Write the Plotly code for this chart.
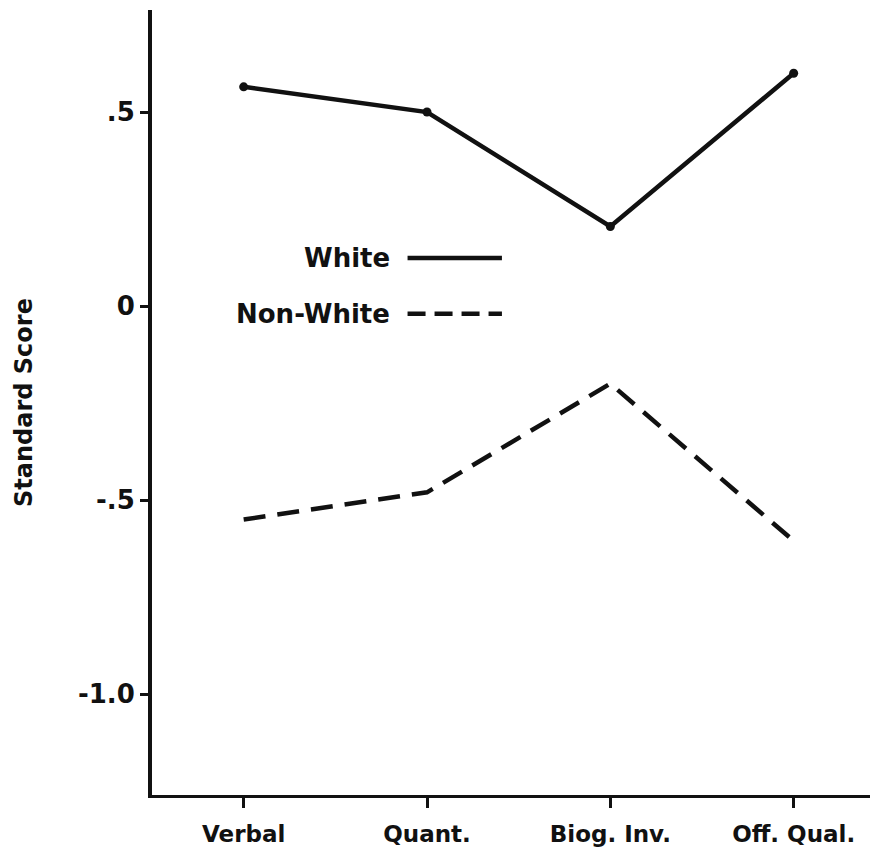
import plotly.graph_objects as go

# Data
categories = ["Verbal", "Quant.", "Biog. Inv.", "Off. Qual."]
white = [0.565, 0.50, 0.205, 0.60]
non_white = [-0.55, -0.48, -0.20, -0.605]

y_tick_vals = [0.5, 0, -0.5, -1.0]
y_tick_text = [".5", "0", "-.5", "-1.0"]

FONT = "DejaVu Sans"
INK = "#111111"

x_idx = list(range(len(categories)))

fig = go.Figure()

fig.add_trace(go.Scatter(
    x=x_idx, y=white, mode="lines+markers", name="White",
    line=dict(color=INK, width=4.5),
    marker=dict(size=9, color=INK),
))
fig.add_trace(go.Scatter(
    x=x_idx, y=non_white, mode="lines", name="Non-White",
    line=dict(color=INK, width=4.5, dash="22px,12px"),
))

# hand-drawn style legend: label, then line sample to its right
legend_rows = [("White", 0.124, "solid"), ("Non-White", -0.02, "18px,9px")]
for label, yv, dash in legend_rows:
    fig.add_annotation(
        x=0.33, y=yv, xref="paper", yref="y", text="<b>%s</b>" % label,
        showarrow=False, xanchor="right", yanchor="middle",
        font=dict(family=FONT, size=26, color=INK),
    )
    fig.add_shape(
        type="line", xref="paper", yref="y", x0=0.352, x1=0.482, y0=yv, y1=yv,
        line=dict(color=INK, width=4.5, dash=dash),
    )

fig.update_layout(
    width=878, height=857,
    margin=dict(l=144, r=8, t=2, b=70),
    plot_bgcolor="white", paper_bgcolor="white",
    showlegend=False,
    font=dict(family=FONT, color=INK),
)

fig.update_xaxes(
    range=[-0.5, 3.46],
    tickvals=x_idx, ticktext=["<b>%s</b>" % c for c in categories],
    tickfont=dict(family=FONT, size=23, color=INK),
    showgrid=False, zeroline=False, automargin=False,
    showline=True, linecolor=INK, linewidth=3,
    ticks="outside", ticklen=10, tickwidth=3, tickcolor=INK,
    ticklabelstandoff=6,
)
fig.update_yaxes(
    range=[-1.26, 0.763],
    tickvals=y_tick_vals, ticktext=["<b>%s</b>" % t for t in y_tick_text],
    tickfont=dict(family=FONT, size=26, color=INK),
    showgrid=False, zeroline=False, automargin=False,
    showline=True, linecolor=INK, linewidth=4,
    ticks="outside", ticklen=8, tickwidth=3, tickcolor=INK,
    title=dict(text="<b>Standard Score</b>", standoff=40,
               font=dict(family=FONT, size=24, color=INK)),
)

fig.write_html("out.html")
